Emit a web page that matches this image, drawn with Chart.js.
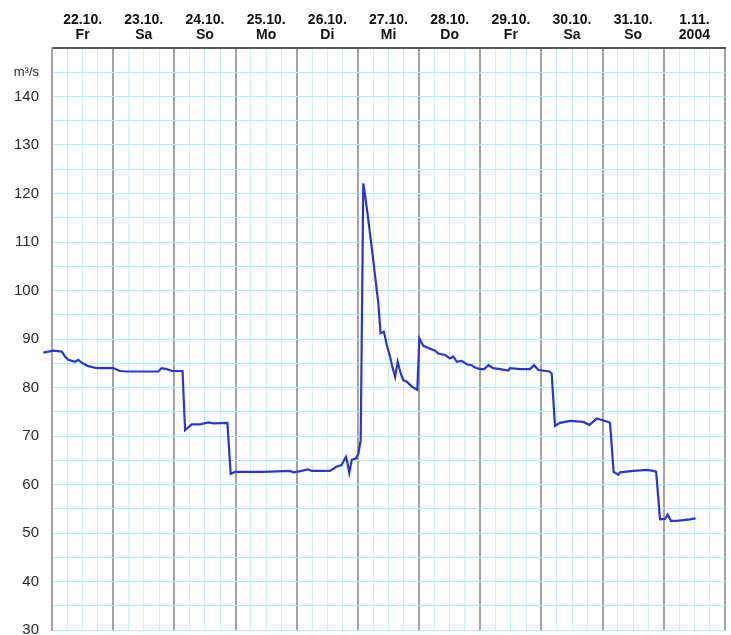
<!DOCTYPE html>
<html>
<head>
<meta charset="utf-8">
<script src="https://cdn.jsdelivr.net/npm/chart.js"></script>
<style>
  html, body { margin: 0; padding: 0; background: #fff; overflow: hidden; }
  canvas { display: block; }
</style>
</head>
<body>
<canvas id="flowChart" width="731" height="635"></canvas>
<script>
// hours since 22.10.2004 00:00
const hours = [
  -3.4, 0.5, 3.8, 5.1, 6.4, 9.0, 10.3, 11.7, 14.2, 17.5, 24.0, 26.7, 29.3,
  41.7, 43.0, 45.0, 47.0, 51.2, 52.2, 53.1, 54.8, 58.1, 61.3, 63.3, 68.8,
  70.1, 71.8, 82.9, 93.4, 94.7, 96.0, 100.5, 101.9, 109.1, 111.7, 113.6,
  115.3, 115.8, 116.6, 117.6, 119.3, 120.2, 121.1, 122.1, 122.8, 124.1,
  126.0, 128.0, 128.9, 130.2, 131.3, 132.6, 133.5, 134.6, 135.6, 136.8,
  137.8, 139.2, 141.1, 143.3, 144.1, 145.7, 148.3, 150.3, 151.5, 154.2,
  156.1, 157.4, 158.8, 160.7, 162.7, 164.6, 165.9, 167.9, 169.5, 171.2,
  173.1, 175.8, 179.0, 179.7, 183.6, 187.5, 189.1, 190.8, 195.1, 196.0,
  197.3, 199.3, 203.2, 208.4, 210.8, 213.7, 215.6, 218.2, 218.9, 220.3,
  222.2, 222.8, 228.1, 233.3, 235.9, 237.0, 238.5, 240.5, 241.5, 242.8,
  245.1, 250.3, 252.0, 252.4
];
// discharge in m³/s
const flow = [
  87.2, 87.6, 87.4, 86.4, 85.7, 85.3, 85.7, 85.1, 84.4, 84.0, 84.0, 83.4, 83.3,
  83.3, 84.0, 83.8, 83.4, 83.4, 71.2, 71.6, 72.4, 72.4, 72.8, 72.6, 72.7,
  62.2, 62.6, 62.6, 62.8, 62.5, 62.6, 63.1, 62.8, 62.8, 63.7, 64.0,
  65.7, 64.7, 62.4, 65.1, 65.4, 66.4, 69.2, 122.1, 119.7, 114.5,
  106.3, 97.4, 91.2, 91.5, 88.8, 86.4, 84.3, 82.2, 85.3, 82.9,
  81.5, 81.2, 80.2, 79.5, 90.1, 88.6, 88.0, 87.6, 87.0, 86.7,
  86.0, 86.4, 85.3, 85.5, 84.8, 84.6, 84.1, 83.8, 83.8, 84.6,
  84.0, 83.8, 83.5, 84.0, 83.8, 83.8, 84.6, 83.6, 83.3, 82.9,
  72.1, 72.7, 73.1, 72.9, 72.3, 73.6, 73.3, 72.9, 72.7, 62.6,
  62.0, 62.5, 62.8, 63.0, 62.8, 62.6, 52.8, 52.9, 53.8, 52.5,
  52.5, 52.8, 53.0, 52.9
];

const dayDates = ['22.10.', '23.10.', '24.10.', '25.10.', '26.10.', '27.10.', '28.10.', '29.10.', '30.10.', '31.10.', '1.11.'];
const dayNames = ['Fr', 'Sa', 'So', 'Mo', 'Di', 'Mi', 'Do', 'Fr', 'Sa', 'So', '2004'];
const unitLabel = 'm³/s';

const points = hours.map((h, i) => ({ x: h, y: flow[i] }));
const fontFamily = '"Liberation Sans", Arial, sans-serif';

new Chart(document.getElementById('flowChart').getContext('2d'), {
  type: 'line',
  data: {
    datasets: [{
      data: points,
      borderColor: '#2b36cc',
      borderWidth: 2.2,
      pointRadius: 0,
      tension: 0,
      clip: false
    }]
  },
  options: {
    responsive: false,
    animation: false,
    layout: { padding: { top: 0, left: 0, right: 6, bottom: 5 } },
    plugins: { legend: { display: false }, tooltip: { enabled: false } },
    scales: {
      x: {
        type: 'linear',
        position: 'top',
        min: 0,
        max: 264,
        afterFit: s => { s.height = 48; s.paddingLeft = 0; s.paddingRight = 0; },
        border: { display: true, color: '#555', width: 2 },
        grid: {
          drawTicks: false,
          color: c => (c.tick && c.tick.value % 24 === 0) ? '#a3a3a3' : '#c8f3f3',
          lineWidth: c => (c.tick && c.tick.value % 24 === 0) ? 2 : 1
        },
        ticks: {
          stepSize: 6,
          autoSkip: false,
          maxRotation: 0,
          minRotation: 0,
          padding: 6,
          color: '#111',
          font: { family: fontFamily, size: 14, weight: 'bold', lineHeight: 1.05 },
          callback: v => {
            if (v % 24 !== 12) return '';
            const i = (v - 12) / 24;
            return [dayDates[i], dayNames[i]];
          }
        }
      },
      y: {
        min: 30,
        max: 150,
        afterFit: s => { s.width = 52; s.paddingTop = 0; s.paddingBottom = 0; },
        border: { display: true, color: '#a3a3a3', width: 2 },
        grid: { drawTicks: false, color: '#aeeeee', lineWidth: 1 },
        ticks: {
          stepSize: 5,
          autoSkip: false,
          padding: 13,
          color: '#2a2a2a',
          font: c => ({ family: fontFamily, size: c.tick && c.tick.value === 145 ? 13 : 15 }),
          callback: v => v === 145 ? unitLabel : (v % 10 === 0 && v < 150 ? String(v) : '')
        }
      }
    }
  }
});
</script>
</body>
</html>
